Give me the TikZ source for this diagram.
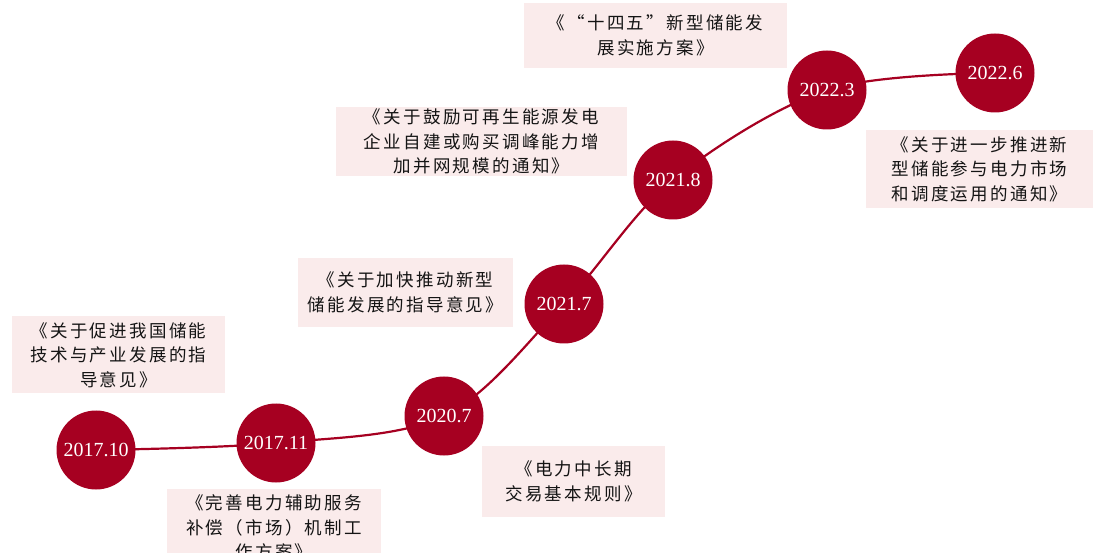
\documentclass[tikz,border=0pt]{standalone}
\usepackage{fontspec}
\setmainfont{Liberation Serif}
\newfontfamily\cjk[LetterSpace=13]{Noto Sans CJK SC}
\definecolor{dotred}{RGB}{166,0,33}
\definecolor{boxpink}{RGB}{250,235,235}
\definecolor{txt}{RGB}{20,20,20}
\begin{document}
\begin{tikzpicture}[x=1pt,y=-1pt,
  dot/.style={circle,fill=dotred,minimum size=79pt,inner sep=0pt,text=white,font=\fontsize{20}{22}\selectfont},
  pbox/.style={rectangle,fill=boxpink,inner sep=0pt,align=center,text=txt,font=\cjk\fontsize{17.5}{24.5}\selectfont},
  curve/.style={draw=dotred,line width=2.2pt}]
\useasboundingbox (0,0) rectangle (1093,553);
\coordinate (c1) at (96,450);
\coordinate (c2) at (276,443);
\coordinate (c3) at (444,416);
\coordinate (c4) at (564,304);
\coordinate (c5) at (673,180);
\coordinate (c6) at (827,90);
\coordinate (c7) at (995,73);
\draw[curve] plot[smooth,tension=0.55] coordinates {(c1) (c2) (c3) (c4) (c5) (c6) (c7)};
\node[dot] (n1) at (c1) {2017.10};
\node[dot] (n2) at (c2) {2017.11};
\node[dot] (n3) at (c3) {2020.7};
\node[dot] (n4) at (c4) {2021.7};
\node[dot] (n5) at (c5) {2021.8};
\node[dot] (n6) at (c6) {2022.3};
\node[dot] (n7) at (c7) {2022.6};
\begin{scope}
\clip (0,0) rectangle (1093,553);
\node[pbox,minimum width=213pt,minimum height=77pt] (b1) at (118.5,355) {《关于促进我国储能\\技术与产业发展的指\\导意见》};
\node[pbox,minimum width=214pt,minimum height=77pt] (b2) at (274,527.5) {《完善电力辅助服务\\补偿（市场）机制工\\作方案》};
\end{scope}
\node[pbox,minimum width=183pt,minimum height=71pt] (b3) at (573.5,481.5) {《电力中长期\\交易基本规则》};
\node[pbox,minimum width=215pt,minimum height=69pt] (b4) at (405.5,292.5) {《关于加快推动新型\\储能发展的指导意见》};
\node[pbox,minimum width=291pt,minimum height=69pt] (b5) at (481.5,141.5) {《关于鼓励可再生能源发电\\企业自建或购买调峰能力增\\加并网规模的通知》};
\node[pbox,minimum width=263pt,minimum height=65pt] (b6) at (655.5,35.5) {《“十四五”新型储能发\\展实施方案》};
\node[pbox,minimum width=227pt,minimum height=78pt] (b7) at (979.5,169) {《关于进一步推进新\\型储能参与电力市场\\和调度运用的通知》};
\end{tikzpicture}
\end{document}
